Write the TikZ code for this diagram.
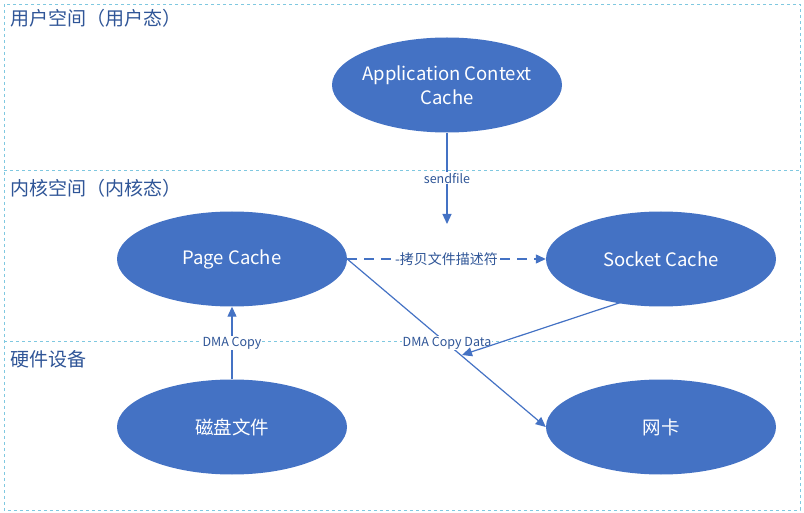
\documentclass[tikz,border=0pt]{standalone}
\usepackage{fontspec}
\setmainfont{Noto Sans CJK SC}
\usetikzlibrary{arrows.meta,shapes.geometric}
\definecolor{fillb}{HTML}{4472C4}
\definecolor{lineb}{HTML}{4472C4}
\definecolor{txtb}{HTML}{2F5597}
\definecolor{band}{HTML}{7FC8E0}
\begin{document}
\begin{tikzpicture}[x=1pt,y=-1pt,
  ell/.style={ellipse,fill=fillb,draw=none,minimum width=230pt,minimum height=95pt,text=white,font=\fontsize{18.5}{24}\selectfont,align=center},
  arr/.style={draw=lineb,line width=1.2pt,-{Triangle[length=10pt,width=9pt]}},
  lab/.style={fill=white,text=txtb,font=\fontsize{12.5}{14}\selectfont,inner sep=1pt},
  bandl/.style={text=txtb,font=\fontsize{19}{22}\selectfont,anchor=west}]
\useasboundingbox (0,0) rectangle (804,513);
\draw[band,dashed,line width=0.8pt] (4,4) rectangle (800,510);
\draw[band,dashed,line width=0.8pt] (4,170) -- (800,170);
\draw[band,dashed,line width=0.8pt] (4,341) -- (800,341);
\node[bandl] (u) at (7,18) {用户空间（用户态）};
\node[bandl] (k) at (7,188) {内核空间（内核态）};
\node[bandl] (h) at (7,359) {硬件设备};
\node[ell,inner xsep=-12pt,inner ysep=-6pt] (app) at (447,85) {Application Context\\Cache};
\node[ell] (pc) at (232,259) {Page Cache};
\node[ell] (sc) at (661,259) {Socket Cache};
\node[ell] (disk) at (232,427) {磁盘文件};
\node[ell] (nic) at (661,427) {网卡};
\coordinate (sfend) at (447,224);
\draw[arr] (app.south) -- node[lab,pos=0.5] {sendfile} (sfend);
\draw[arr,dash pattern=on 10pt off 7pt] (pc.east) -- node[lab,font=\fontsize{14}{16}\selectfont] {-拷贝文件描述符} (sc.west);
\draw[arr] (disk.north) -- node[lab,pos=0.5] {DMA Copy} (pc.south);
\draw[arr] (pc.east) -- (nic.west);
\node[lab] (dma) at (447,343) {DMA Copy Data};
\coordinate (dend) at (462,355);
\draw[arr] (622,302) -- (dend);
\end{tikzpicture}
\end{document}
